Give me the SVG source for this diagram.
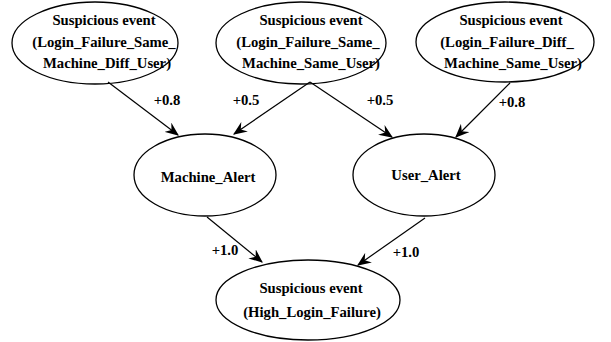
<svg xmlns="http://www.w3.org/2000/svg" width="611" height="342" viewBox="0 0 611 342">
<defs>
<style>
.n ellipse{fill:#fff;stroke:#000;stroke-width:1.3}
text{font-family:"Liberation Serif","DejaVu Serif",serif;font-weight:bold;font-size:14.7px;fill:#000;text-anchor:middle}
.e line{stroke:#000;stroke-width:1.2;marker-end:url(#ah)}
</style>
<marker id="ah" viewBox="0 0 12 10" refX="11" refY="5" markerWidth="14" markerHeight="12" markerUnits="userSpaceOnUse" orient="auto">
<path d="M0,0 L12,5 L0,10 L4,5 z" fill="#000"/>
</marker>
</defs>
<g id="n1" class="n"><ellipse cx="95" cy="43" rx="83" ry="41"/>
<text x="104" y="25">Suspicious event</text><text x="104" y="47">(Login_Failure_Same_</text><text x="107" y="68">Machine_Diff_User)</text></g>
<g id="n2" class="n"><ellipse cx="301" cy="43" rx="85" ry="41"/>
<text x="311" y="25">Suspicious event</text><text x="308" y="47">(Login_Failure_Same_</text><text x="311" y="68">Machine_Same_User)</text></g>
<g id="n3" class="n"><ellipse cx="505" cy="42" rx="89" ry="40"/>
<text x="511" y="25">Suspicious event</text><text x="507" y="47">(Login_Failure_Diff_</text><text x="513" y="68">Machine_Same_User)</text></g>
<g id="n4" class="n"><ellipse cx="205" cy="175" rx="71" ry="41"/>
<text x="208" y="182">Machine_Alert</text></g>
<g id="n5" class="n"><ellipse cx="424" cy="175" rx="71" ry="41"/>
<text x="426" y="180">User_Alert</text></g>
<g id="n6" class="n"><ellipse cx="308" cy="300" rx="92" ry="40"/>
<text x="311" y="293">Suspicious event</text><text x="312" y="317">(High_Login_Failure)</text></g>
<g id="edges" class="e">
<line x1="108" y1="82" x2="178" y2="135"/>
<line x1="310" y1="82" x2="234" y2="134"/>
<line x1="310" y1="82" x2="392" y2="137"/>
<line x1="510" y1="83" x2="456" y2="137"/>
<line x1="207" y1="217" x2="262" y2="262"/>
<line x1="425" y1="218" x2="358" y2="265"/>
</g>
<g id="labels">
<text x="167" y="105">+0.8</text>
<text x="246" y="105">+0.5</text>
<text x="380" y="105">+0.5</text>
<text x="512" y="107">+0.8</text>
<text x="225" y="255">+1.0</text>
<text x="406" y="257">+1.0</text>
</g>
</svg>
